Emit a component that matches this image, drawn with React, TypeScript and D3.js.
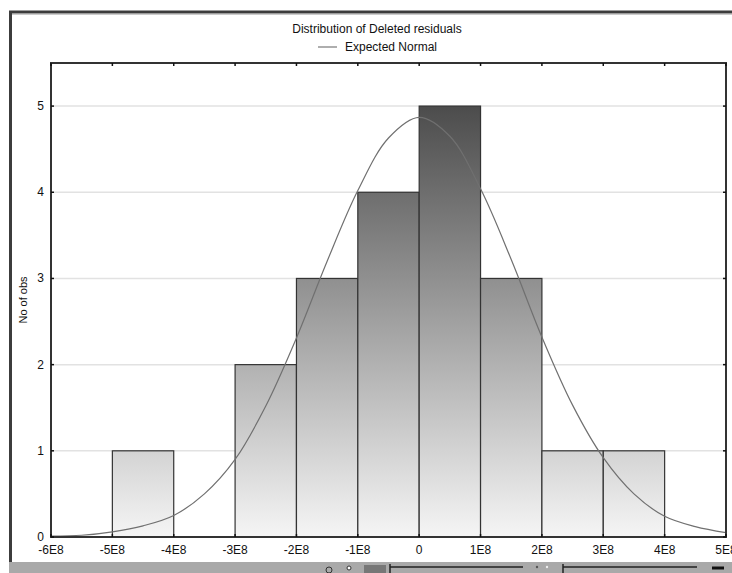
import { area, curveCatmullRom, line, scaleLinear } from "d3";

// histogram bins (lower edge, upper edge) in units of 1E8 and counts
const binStarts = [-6, -5, -4, -3, -2, -1, 0, 1, 2, 3, 4];
const binCounts = [0, 1, 0, 2, 3, 4, 5, 3, 1, 1, 0];

// expected normal curve, x in 1E8
const normalX = [-6, -5.5, -5, -4.5, -4, -3.5, -3, -2.5, -2, -1.5, -1, -0.5, 0, 0.5, 1, 1.5, 2, 2.5, 3, 3.5, 4, 4.5, 5];
const normalY = [0.01, 0.02, 0.06, 0.13, 0.25, 0.5, 0.9, 1.52, 2.31, 3.2, 4.02, 4.63, 4.87, 4.65, 4.04, 3.22, 2.32, 1.53, 0.92, 0.5, 0.24, 0.12, 0.05];

const xTicks = [-6, -5, -4, -3, -2, -1, 0, 1, 2, 3, 4, 5];
const yTicks = [0, 1, 2, 3, 4, 5];

function formatE8(v: number) {
  return v === 0 ? "0" : `${v}E8`;
}

export default function App() {
  const width = 732;
  const height = 573;
  const margin = { top: 63, right: 6, bottom: 36, left: 51 };
  const innerWidth = width - margin.left - margin.right;
  const innerHeight = height - margin.top - margin.bottom - 0;
  const plotBottom = 537 - margin.top;

  const x = scaleLinear().domain([-6, 5]).range([0, innerWidth - 0]);
  const y = scaleLinear().domain([0, 5.5]).range([plotBottom, 0]);

  const normalPath = line<number>()
    .x((_, i) => x(normalX[i]))
    .y((d) => y(d))
    .curve(curveCatmullRom)(normalY);

  void area;
  void innerHeight;

  const font = "'Liberation Sans', Arial, sans-serif";

  return (
    <svg
      width={width}
      height={height}
      viewBox={`0 0 ${width} ${height}`}
      style={{ position: "absolute", left: 0, top: 0, background: "#fff" }}
      fontFamily={font}
    >
      <defs>
        <linearGradient id="barFill" gradientUnits="userSpaceOnUse" x1={0} x2={0} y1={y(5)} y2={y(0)}>
          <stop offset="0%" stopColor="#4c4c4c" />
          <stop offset="100%" stopColor="#f5f5f5" />
        </linearGradient>
        <clipPath id="plotClip">
          <rect x={0} y={0} width={innerWidth} height={plotBottom} />
        </clipPath>
      </defs>

      {/* outer window frame */}
      <line x1={10.5} x2={10.5} y1={11} y2={563} stroke="#3c3c3c" strokeWidth={3} />
      <line x1={9} x2={width} y1={12} y2={12} stroke="#3c3c3c" strokeWidth={3} />
      <line x1={12} x2={width} y1={14} y2={14} stroke="#9a9a9a" strokeWidth={1} />

      {/* bottom scroll strip */}
      <rect x={9} y={562} width={width - 9} height={11} fill="#a9a9a9" />
      <rect x={364} y={565} width={22} height={8} fill="#777" />
      <line x1={390} x2={390} y1={564} y2={573} stroke="#222" strokeWidth={1.5} />
      <line x1={390} x2={523} y1={567} y2={567} stroke="#222" strokeWidth={1.5} />
      <circle cx={537} cy={567} r={1.2} fill="#555" />
      <circle cx={547} cy={567} r={1.2} fill="#eee" />
      <line x1={563} x2={563} y1={564} y2={573} stroke="#222" strokeWidth={1.5} />
      <line x1={563} x2={697} y1={567} y2={567} stroke="#222" strokeWidth={1.5} />
      <line x1={712} x2={724} y1={568} y2={568} stroke="#111" strokeWidth={3} />
      <circle cx={329} cy={570} r={3} fill="none" stroke="#333" />
      <circle cx={349} cy={568} r={2} fill="#fff" stroke="#333" />

      {/* title and legend */}
      <text x={377} y={33} textAnchor="middle" fontSize={12} fill="#111">
        Distribution of Deleted residuals
      </text>
      <line x1={318} x2={337} y1={47} y2={47} stroke="#777" strokeWidth={1.2} />
      <text x={345} y={51} fontSize={12} fill="#111">
        Expected Normal
      </text>

      {/* y axis title */}
      <text
        transform={`translate(27, ${margin.top + plotBottom / 2}) rotate(-90)`}
        textAnchor="middle"
        fontSize={11}
        fill="#111"
      >
        No of obs
      </text>

      <g transform={`translate(${margin.left}, ${margin.top})`}>
        {yTicks.slice(1).map((t) => (
          <line key={`g${t}`} x1={0} x2={innerWidth} y1={y(t)} y2={y(t)} stroke="#e2e2e2" strokeWidth={1.5} />
        ))}

        {binStarts.map((b, i) =>
          binCounts[i] > 0 ? (
            <rect
              key={b}
              x={x(b)}
              y={y(binCounts[i])}
              width={x(b + 1) - x(b)}
              height={y(0) - y(binCounts[i])}
              fill="url(#barFill)"
              stroke="#333"
              strokeWidth={1.2}
            />
          ) : null
        )}

        <path d={normalPath ?? ""} fill="none" stroke="#707070" strokeWidth={1.2} clipPath="url(#plotClip)" />

        {/* plot frame */}
        <rect x={0} y={0} width={innerWidth} height={plotBottom} fill="none" stroke="#333" strokeWidth={2} />

        {xTicks.map((t) => (
          <g key={`x${t}`}>
            <line x1={x(t)} x2={x(t)} y1={plotBottom} y2={plotBottom - 3} stroke="#111" strokeWidth={1.5} />
            <line x1={x(t)} x2={x(t)} y1={0} y2={3} stroke="#111" strokeWidth={1.5} />
            <text x={x(t)} y={plotBottom + 17} textAnchor="middle" fontSize={12} fill="#111">
              {formatE8(t)}
            </text>
          </g>
        ))}

        {yTicks.map((t) => (
          <g key={`y${t}`}>
            <line x1={0} x2={3} y1={y(t)} y2={y(t)} stroke="#111" strokeWidth={1.5} />
            <line x1={innerWidth} x2={innerWidth - 3} y1={y(t)} y2={y(t)} stroke="#111" strokeWidth={1.5} />
            <text x={-7} y={y(t) + 4} textAnchor="end" fontSize={12} fill="#111">
              {t}
            </text>
          </g>
        ))}
      </g>
    </svg>
  );
}
